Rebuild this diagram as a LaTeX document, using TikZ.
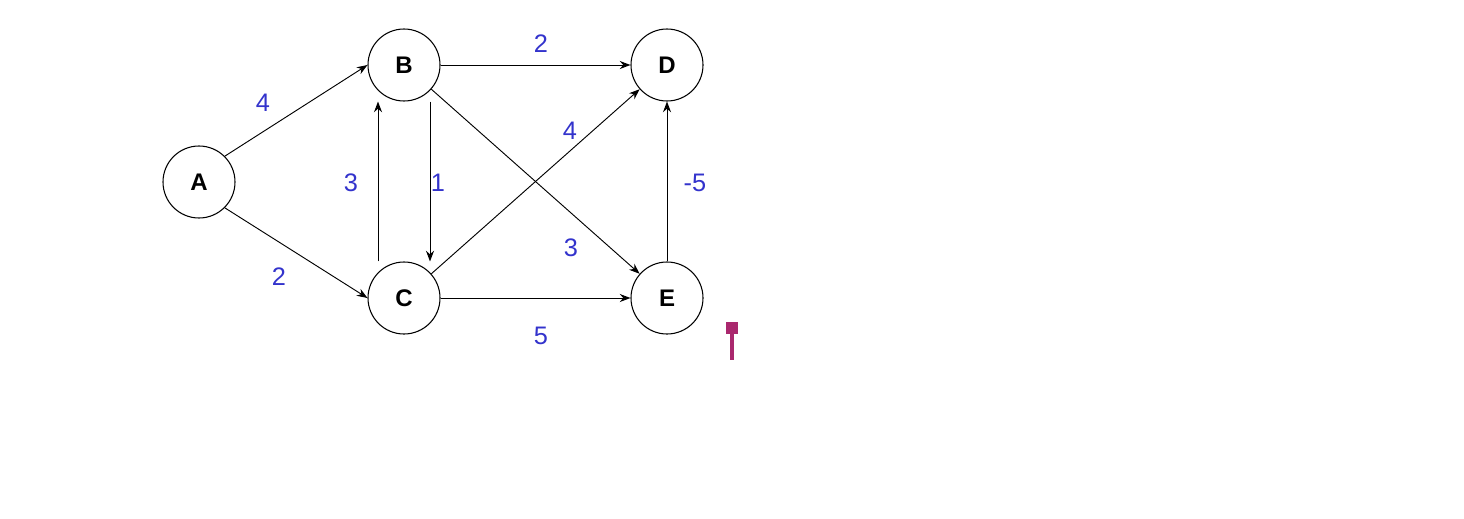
\documentclass[tikz,border=0pt]{standalone}
\usepackage{fontspec}
\setmainfont{Liberation Sans}
\usetikzlibrary{arrows.meta}
\begin{document}
\begin{tikzpicture}[x=0.75pt,y=-0.75pt,
  vert/.style={circle,draw,line width=0.8pt,minimum size=54pt,inner sep=0pt,font=\fontsize{18}{18}\selectfont\bfseries},
  edge/.style={-{Stealth[length=8pt,width=6pt]},line width=0.7pt},
  wt/.style={text=blue!75!white!80!black,font=\fontsize{19}{19}\selectfont}]
\useasboundingbox (0,0) rectangle (1464,518);
\node[vert] (A) at (199,182) {A};
\node[vert] (B) at (404,65) {B};
\node[vert] (C) at (404,298) {C};
\node[vert] (D) at (667,65) {D};
\node[vert] (E) at (667,298) {E};
\draw[edge] (A.45) -- (B.west);
\draw[edge] (A.-45) -- (C.west);
\draw[edge] ([xshift=-19.5pt]C.north) -- ([xshift=-19.5pt]B.south) ;
\draw[edge] ([xshift=19.5pt]B.south) -- ([xshift=19.5pt]C.north);
\draw[edge] (B) -- (D);
\draw[edge] (B) -- (E);
\draw[edge] (C) -- (D);
\draw[edge] (C) -- (E);
\draw[edge] (E) -- (D);
\node[wt] (w1) at (263,103) {4};
\node[wt] (w2) at (279,277) {2};
\node[wt] (w3) at (351,183) {3};
\node[wt] (w4) at (438,183) {1};
\node[wt] (w5) at (541,44) {2};
\node[wt] (w6) at (570,131) {4};
\node[wt] (w7) at (571,248) {3};
\node[wt] (w8) at (541,336) {5};
\node[wt] (w9) at (695,183) {-5};
\fill[fill={rgb,255:red,170;green,40;blue,110}] (726,322) rectangle (738,334);
\fill[fill={rgb,255:red,170;green,40;blue,110}] (730,334) rectangle (734,360);
\end{tikzpicture}
\end{document}
